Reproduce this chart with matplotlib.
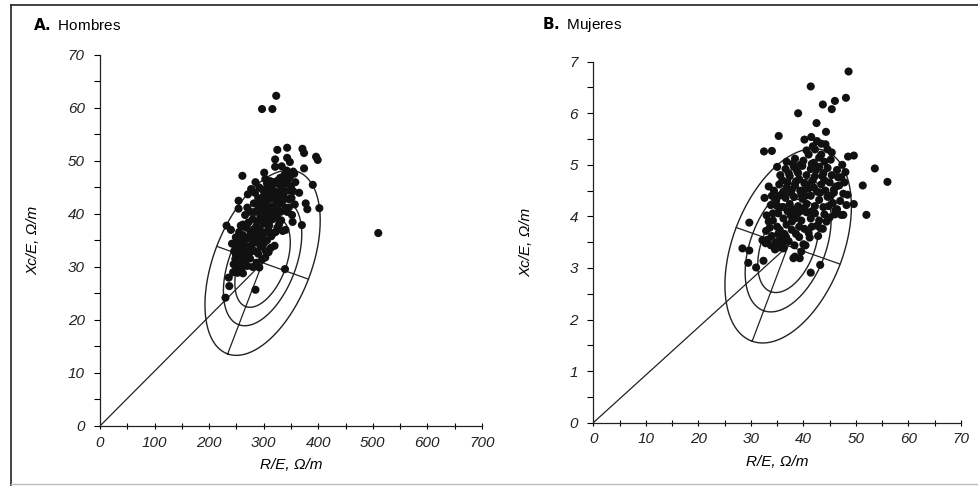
import numpy as np
import matplotlib
matplotlib.use("Agg")
from matplotlib import pyplot as plt
from matplotlib.lines import Line2D

plt.rcParams['font.family'] = ['Liberation Sans', 'DejaVu Sans']

# ---- A. Hombres: R/E and Xc/E (ohm/m) ----
hombres_re = [323, 297, 316, 510, 261,
              325, 343, 371, 374, 396, 399, 321, 343, 348, 321, 333, 374,
              301, 354, 348, 358, 390, 354, 365, 377, 380, 402, 370, 353, 340,
              254, 254, 232, 240, 249, 271, 277, 285, 303, 318,
              280, 236, 237, 230, 285, 339, 320, 309,
              245, 250, 255, 260, 265, 270, 248, 258, 268, 275, 252, 262,
              246, 253, 260, 266, 272, 278, 284, 290, 295, 300, 242, 256,
              262, 270, 276, 283, 290, 296, 302, 308, 314, 255, 268, 286, 322,
              272, 280, 288, 294, 300, 306, 312, 318, 325, 266, 284, 298, 332,
              290, 297, 304, 310, 316, 322, 328, 334, 340, 346, 282, 300, 336,
              308, 315, 322, 328, 334, 340, 346, 312, 330, 338, 344, 350,
              275, 287, 293, 305, 311, 319, 326, 331, 279, 263, 249, 258, 244,
              287, 297, 303, 292, 325, 313, 306, 343, 351, 357, 335,
              284, 292, 298, 306, 290, 296, 302, 310, 316, 322, 328, 276, 270, 262,
              258, 252, 264, 280, 288, 294, 312, 324, 336, 342, 356, 346, 352, 330,
              318, 304]
hombres_xc = [62.3, 59.8, 59.8, 36.4, 47.2,
              52.1, 52.5, 52.3, 51.5, 50.8, 50.2, 50.3, 50.6, 49.8, 48.9, 49.0, 48.6,
              47.8, 48.0, 47.0, 46.0, 45.5, 44.3, 44.0, 42.0, 40.9, 41.1, 37.9, 38.5, 37.0,
              42.5, 41.0, 37.8, 37.0, 35.6, 43.7, 44.7, 46.0, 46.6, 46.0,
              30.0, 28.0, 26.4, 24.2, 25.7, 29.6, 34.0, 32.8,
              30.5, 29.6, 30.8, 29.8, 31.0, 30.2, 31.5, 32.0, 32.4, 31.6, 28.9, 28.8,
              33.0, 33.5, 33.2, 34.0, 33.4, 34.2, 33.0, 32.5, 33.8, 34.4, 34.4, 34.8,
              36.0, 35.4, 36.4, 35.8, 36.8, 35.6, 36.4, 37.0, 35.8, 36.6, 37.4, 37.6, 36.6,
              38.4, 39.0, 38.6, 39.6, 38.2, 39.4, 38.8, 40.0, 39.2, 39.8, 40.4, 40.8, 38.8,
              41.6, 42.4, 41.8, 42.8, 41.4, 42.6, 41.8, 42.4, 41.2, 42.8, 42.0, 43.4, 43.6,
              44.6, 45.2, 44.2, 45.6, 44.8, 45.8, 44.4, 46.2, 46.8, 47.4, 46.4, 45.2,
              32.8, 34.6, 37.2, 40.0, 40.8, 43.4, 43.0, 40.4, 37.0, 33.8, 32.4, 31.4, 29.0,
              30.8, 31.4, 31.8, 29.9, 37.4, 33.6, 35.0, 40.4, 43.0, 41.8, 36.8,
              44.0, 45.0, 44.6, 45.8, 43.0, 40.6, 38.8, 37.8, 39.0, 40.8, 38.0, 40.4, 41.2, 38.0,
              37.8, 34.0, 35.0, 35.0, 36.0, 34.6, 44.0, 46.2, 47.0, 48.2, 47.6, 41.2, 39.8, 44.0,
              36.4, 33.0]

# ---- B. Mujeres ----
mujeres_re = [48.6, 41.4, 39.0, 43.7, 46.0, 45.4, 48.1, 42.5, 44.3, 35.3, 40.2, 41.5,
              41.8, 43.4, 32.5, 34.0, 48.5, 49.6, 53.6, 56.0, 51.3, 49.6, 52.0, 47.2,
              29.7, 28.4, 29.7, 29.5, 31.0, 32.4, 41.4, 43.2, 43.3, 40.0, 38.4, 39.3,
              41.2, 46.1, 32.2, 32.9, 35.5, 36.7, 39.2, 38.3, 40.4, 38.1, 39.6, 43.7, 47.6,
              33.2, 34.0, 34.8, 35.6, 36.4, 37.2, 33.6, 35.0, 36.0, 37.8, 38.6,
              33.0, 34.2, 35.2, 36.2, 37.0, 37.8, 38.8, 39.6, 40.6, 41.4, 42.2, 43.0, 44.0, 45.0, 42.6,
              33.8, 34.8, 35.8, 36.6, 37.4, 38.2, 39.0, 39.8, 40.6, 41.4, 42.2, 43.0, 43.8, 44.6,
              45.6, 46.4, 32.6,
              34.4, 35.4, 36.2, 37.0, 37.8, 38.6, 39.4, 40.2, 41.0, 41.8, 42.6, 43.4, 44.2, 45.0,
              45.8, 46.8, 47.6, 33.4,
              35.6, 36.6, 37.4, 38.2, 39.0, 39.8, 40.6, 41.4, 42.2, 43.0, 43.8, 44.6, 45.4, 46.4,
              47.2, 48.0,
              36.8, 38.4, 40.0, 41.0, 42.0, 43.0, 44.0, 45.2, 40.6, 44.6, 45.4, 42.2,
              38.0, 39.2, 40.2, 41.0, 36.8, 35.4, 37.6, 39.6, 42.0, 43.6, 44.8, 46.0, 47.0, 48.2,
              34.6, 35.4, 36.2, 33.8, 32.8, 41.6, 40.0, 38.8, 36.0, 35.0, 45.8, 47.8, 48.4, 41.6,
              42.8, 44.4,
              36.8, 38.4, 39.2, 40.4, 41.2, 42.4, 43.2, 44.0, 37.6, 38.4, 39.4, 40.2, 36.2, 35.0,
              34.2, 33.4, 37.2, 38.0, 39.4, 41.6, 43.4, 44.2, 42.6, 46.6, 47.4, 45.2, 46.2, 34.0,
              35.2, 36.6]
mujeres_xc = [6.81, 6.52, 6.00, 6.17, 6.24, 6.08, 6.30, 5.81, 5.64, 5.56, 5.49, 5.54,
              5.36, 5.41, 5.26, 5.27, 5.16, 5.18, 4.93, 4.67, 4.60, 4.24, 4.03, 4.03,
              3.88, 3.38, 3.34, 3.10, 3.01, 3.14, 2.91, 3.06, 3.77, 3.46, 3.22, 3.19,
              3.59, 4.12, 3.54, 3.72, 3.74, 3.60, 3.60, 3.44, 3.44, 3.19, 3.32, 3.76, 4.03,
              3.55, 3.62, 3.50, 3.58, 3.66, 3.52, 3.78, 3.80, 3.46, 3.74, 3.66,
              4.02, 3.92, 4.06, 3.96, 4.10, 3.90, 4.04, 3.92, 4.08, 3.96, 4.06, 3.92, 4.04, 3.98, 3.82,
              4.22, 4.30, 4.18, 4.36, 4.24, 4.38, 4.20, 4.34, 4.24, 4.40, 4.20, 4.32, 4.18, 4.38,
              4.26, 4.14, 4.36,
              4.50, 4.62, 4.48, 4.66, 4.52, 4.68, 4.50, 4.64, 4.54, 4.70, 4.48, 4.62, 4.50, 4.66,
              4.52, 4.60, 4.44, 4.58,
              4.80, 4.92, 4.78, 4.96, 4.84, 4.98, 4.80, 4.92, 4.78, 4.96, 4.84, 4.94, 4.80, 4.90,
              4.76, 4.86,
              5.06, 5.12, 5.08, 5.20, 5.04, 5.14, 5.06, 5.10, 5.28, 5.30, 5.24, 5.30,
              4.14, 3.80, 3.76, 3.68, 3.84, 4.40, 4.46, 4.42, 4.56, 4.78, 4.20, 4.04, 4.30, 4.22,
              3.36, 3.40, 3.38, 3.44, 3.48, 4.10, 4.50, 4.88, 4.70, 4.96, 4.46, 4.66, 4.42, 3.80,
              3.62, 3.90,
              4.56, 4.60, 4.72, 4.40, 4.62, 4.90, 4.46, 4.70, 4.02, 3.96, 4.10, 4.16, 4.18, 4.20,
              4.06, 3.90, 4.84, 5.02, 5.00, 5.02, 5.20, 5.40, 5.46, 4.76, 5.00, 4.40, 4.58, 4.40,
              3.66, 3.58]

# tolerance ellipses: centre, half major axis (to bottom) and half minor axis (95%)
hombres_centre = (298, 30.8)
hombres_major = (-64, -17.2)
hombres_minor = (84, -3.1)
mujeres_centre = (37.1, 3.43)
mujeres_major = (-6.85, -1.85)
mujeres_minor = (9.9, -0.355)
percentiles = [0.50, 0.75, 0.95]


def draw_panel(ax, re, xc, centre, major, minor, xmax, ymax, xstep, ystep, ylab_x):
    c = np.array(centre)
    u = np.array(major)
    v = np.array(minor)
    k95 = np.sqrt(-2 * np.log(1 - 0.95))
    t = np.linspace(0, 2 * np.pi, 300)
    for p in percentiles:
        k = np.sqrt(-2 * np.log(1 - p)) / k95
        ex = c[0] + k * (np.cos(t) * u[0] + np.sin(t) * v[0])
        ey = c[1] + k * (np.cos(t) * u[1] + np.sin(t) * v[1])
        ax.plot(ex, ey, color='#222222', lw=1.0, zorder=2)
    ax.plot([0, c[0]], [0, c[1]], color='#222222', lw=0.9, zorder=2)
    ax.plot([c[0], c[0] + u[0]], [c[1], c[1] + u[1]], color='#222222', lw=0.9, zorder=2)
    ax.plot([c[0] - v[0], c[0] + v[0]], [c[1] - v[1], c[1] + v[1]], color='#222222', lw=0.9, zorder=2)
    ax.scatter(re, xc, s=34, color='#111111', edgecolors='none', zorder=3)

    ax.set_xlim(0, xmax)
    ax.set_ylim(0, ymax)
    ax.set_xticks(np.arange(0, xmax + xstep / 2, xstep))
    ax.set_yticks(np.arange(0, ymax + ystep / 2, ystep))
    ax.set_xticks(np.arange(0, xmax, xstep / 2), minor=True)
    ax.set_yticks(np.arange(0, ymax, ystep / 2), minor=True)
    for lab in ax.get_xticklabels() + ax.get_yticklabels():
        lab.set_fontstyle('italic')
        lab.set_fontsize(11)
        lab.set_color('#222222')
    ax.tick_params(axis='x', which='both', direction='inout', length=4, width=0.8, pad=5)
    ax.tick_params(axis='y', which='both', direction='out', length=4, width=0.8, pad=7)
    ax.spines['top'].set_visible(False)
    ax.spines['right'].set_visible(False)
    for s in ['left', 'bottom']:
        ax.spines[s].set_linewidth(0.9)
        ax.spines[s].set_color('#222222')
    ax.set_xlabel('R/E, Ω/m', fontsize=11, fontstyle='italic', labelpad=6)
    ax.set_ylabel('Xc/E, Ω/m', fontsize=11, fontstyle='italic')
    ax.yaxis.set_label_coords(ylab_x, 0.5)


fig = plt.figure(figsize=(9.79, 4.87), dpi=100)
ax1 = fig.add_axes([0.1021, 0.1253, 0.3902, 0.7618])
ax2 = fig.add_axes([0.6060, 0.1320, 0.3756, 0.7413])

draw_panel(ax1, hombres_re, hombres_xc, hombres_centre, hombres_major, hombres_minor,
           700, 70, 100, 10, -0.155)
draw_panel(ax2, mujeres_re, mujeres_xc, mujeres_centre, mujeres_major, mujeres_minor,
           70, 7, 10, 1, -0.163)

fig.text(0.034, 0.949, r'$\mathbf{A.}$ Hombres', fontsize=11, va='center')
fig.text(0.554, 0.949, r'$\mathbf{B.}$ Mujeres', fontsize=11, va='center')

# frame round the figure
fig.add_artist(Line2D([0.0112, 1.0], [0.990, 0.990], transform=fig.transFigure, color='#222222', lw=1.2))
fig.add_artist(Line2D([0.0112, 0.0112], [0.004, 0.990], transform=fig.transFigure, color='#222222', lw=1.2))
fig.add_artist(Line2D([0.0112, 1.0], [0.006, 0.006], transform=fig.transFigure, color='#bbbbbb', lw=1.0))

fig.savefig('out.png', dpi=100)
